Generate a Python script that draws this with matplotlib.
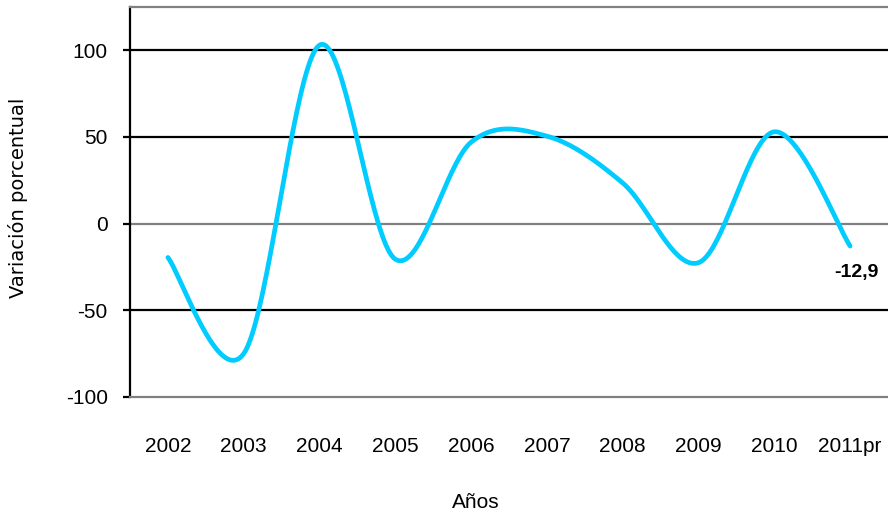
import numpy as np
import matplotlib
matplotlib.use("Agg")
import matplotlib.pyplot as plt

# data
years = ["2002", "2003", "2004", "2005", "2006", "2007", "2008", "2009", "2010", "2011pr"]
variation = [-19.5, -75.0, 103.0, -20.5, 47.0, 50.5, 23.5, -22.5, 53.0, -12.9]
last_label = "-12,9"

narrow = ["Liberation Sans Narrow", "Liberation Sans", "DejaVu Sans"]


def smooth(xs, ys, steps=40):
    # Excel-style smoothed line (Catmull-Rom through the points)
    xs = np.asarray(xs, float)
    ys = np.asarray(ys, float)
    px = np.concatenate([[xs[0]], xs, [xs[-1]]])
    py = np.concatenate([[ys[0]], ys, [ys[-1]]])
    out_x, out_y = [], []
    t = np.linspace(0, 1, steps, endpoint=False)
    h00 = 2 * t**3 - 3 * t**2 + 1
    h10 = t**3 - 2 * t**2 + t
    h01 = -2 * t**3 + 3 * t**2
    h11 = t**3 - t**2
    for i in range(1, len(px) - 2):
        mx0 = (px[i + 1] - px[i - 1]) / 2
        mx1 = (px[i + 2] - px[i]) / 2
        my0 = (py[i + 1] - py[i - 1]) / 2
        my1 = (py[i + 2] - py[i]) / 2
        out_x.extend(h00 * px[i] + h10 * mx0 + h01 * px[i + 1] + h11 * mx1)
        out_y.extend(h00 * py[i] + h10 * my0 + h01 * py[i + 1] + h11 * my1)
    out_x.append(xs[-1])
    out_y.append(ys[-1])
    return out_x, out_y


fig = plt.figure(figsize=(8.88, 5.16), dpi=100)
ax = fig.add_axes([130 / 888, 1 - 397 / 516, 1 - 130 / 888, (397 - 7) / 516])

x = np.arange(len(years))
sx, sy = smooth(x, variation)

# gridlines
for v in [100, 50, -50]:
    ax.axhline(v, color="black", lw=1.6, zorder=1)
ax.axhline(0, color="#808080", lw=1.6, zorder=1)

ax.plot(sx, sy, color="#00CCFF", lw=3.4, solid_capstyle="round", zorder=3)

ax.text(x[-1] + 0.08, variation[-1] - 15, last_label, fontsize=14, fontweight="bold",
        family=narrow, ha="center", va="center")

ax.set_xlim(-0.5, len(years) - 0.5)
ax.set_ylim(-100, 125)
ax.set_yticks([-100, -50, 0, 50, 100])
ax.set_yticklabels(["-100", "-50", "0", "50", "100"], family=narrow, fontsize=15)
ax.set_xticks(x)
ax.set_xticklabels(years, family=narrow, fontsize=15)

ax.spines["right"].set_visible(False)
ax.spines["left"].set_color("black")
ax.spines["left"].set_linewidth(1.6)
ax.spines["top"].set_color("#808080")
ax.spines["top"].set_linewidth(1.6)
ax.spines["bottom"].set_color("#808080")
ax.spines["bottom"].set_linewidth(1.6)

ax.tick_params(axis="y", direction="out", length=5, width=1.6, pad=11)
ax.tick_params(axis="x", length=0, pad=29)

fig.text(18 / 888, 1 - 198 / 516, "Variación porcentual", rotation=90, fontsize=14,
         family="DejaVu Sans", ha="center", va="center")
fig.text(476 / 888, 1 - 503 / 516, "Años", fontsize=15, family=narrow,
         ha="center", va="center")

plt.savefig("out.png", dpi=100)
print("saved out.png")
